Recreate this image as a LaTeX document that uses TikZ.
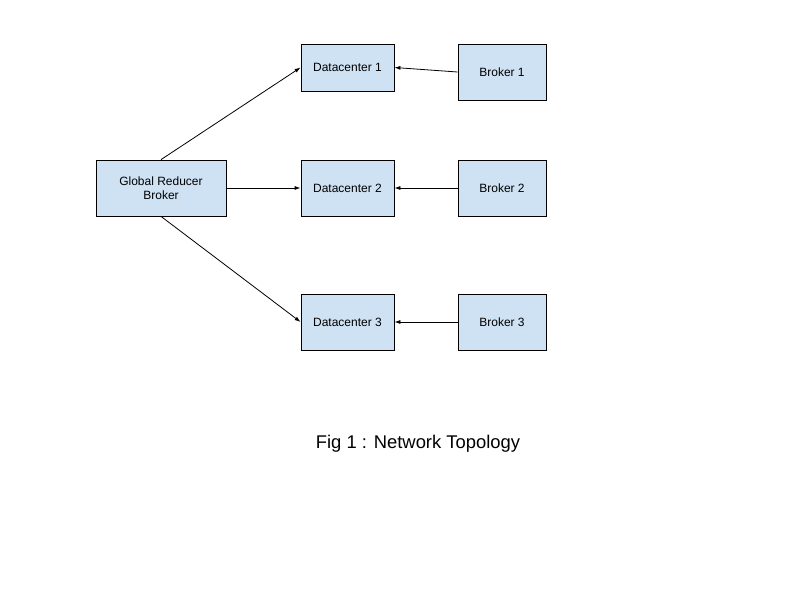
\documentclass[tikz,border=0pt]{standalone}
\usepackage{fontspec}
\setmainfont{Liberation Sans}
\usetikzlibrary{arrows.meta}
\definecolor{boxblue}{HTML}{CFE2F3}

\begin{document}
\begin{tikzpicture}[x=1pt,y=-1pt,
    box/.style={draw=black,fill=boxblue,line width=0.8pt,inner sep=0pt,font=\fontsize{12}{14}\selectfont,
      minimum width=93pt,minimum height=56pt,align=center},
    link/.style={-{Latex[length=6pt,width=4pt]},line width=0.8pt,black}]
    \useasboundingbox[fill=white] (0,0) rectangle (800,600);
    \node[box,minimum width=130pt] (grb) at (161,188) {Global Reducer\\Broker};
    \node[box,minimum height=47pt] (dc1) at (347.5,67.5) {Datacenter 1};
    \node[box] (dc2) at (347.5,188) {Datacenter 2};
    \node[box] (dc3) at (347.5,322) {Datacenter 3};
    \node[box,minimum width=88pt] (br1) at (502,72) {Broker 1};
    \node[box,minimum width=88pt] (br2) at (502,188) {Broker 2};
    \node[box,minimum width=88pt] (br3) at (502,322) {Broker 3};
    \node[font=\fontsize{18.4}{22}\selectfont] (cap) at (418,444) {Fig 1 : Network Topology};
    \draw[link] (grb.north) -- (dc1.west);
    \draw[link] (grb.east) -- (dc2.west);
    \draw[link] (grb.south) -- (dc3.west);
    \draw[link] (br1.west) -- (dc1.east);
    \draw[link] (br2.west) -- (dc2.east);
    \draw[link] (br3.west) -- (dc3.east);
\end{tikzpicture}
\end{document}
